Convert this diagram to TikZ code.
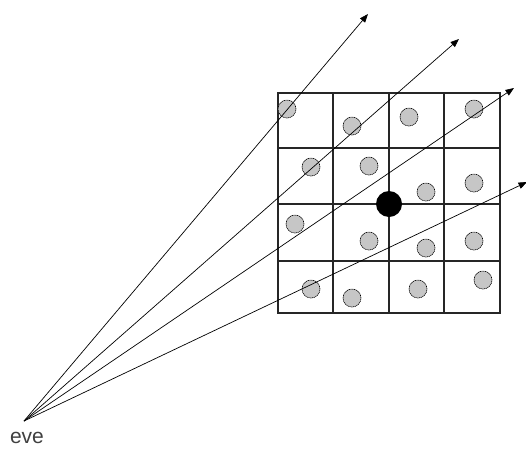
\documentclass[tikz,border=0pt]{standalone}
\usepackage{fontspec}
\setmainfont{Liberation Sans}
\usetikzlibrary{arrows.meta}
\begin{document}
\begin{tikzpicture}[x=1pt,y=-1pt,
  ray/.style={line width=0.7pt,-{Triangle[length=8.5pt,width=6.5pt]}},
  sample/.style={circle,draw=black,fill=gray!45,line width=0.6pt,dashed,dash pattern=on 1.2pt off 0.6pt,minimum size=18pt,inner sep=0pt},
  center/.style={circle,fill=black,minimum size=26pt,inner sep=0pt},
  gridline/.style={line width=1.1pt,draw=black!85},
  border/.style={line width=2.2pt,draw=black!85},
  label/.style={font=\fontsize{21}{23}\selectfont,text=black!75}]
\useasboundingbox (0,0) rectangle (526,450);
% grid
\foreach \x in {333,389,444} \draw[gridline] (\x,93) -- (\x,313);
\foreach \y in {148,204,261} \draw[gridline] (278,\y) -- (500,\y);
\draw[border] (278,93) rectangle (500,313);
% samples
\foreach \p [count=\i] in {(287,109),(352,126),(409,117),(474,109),
  (311,167),(369,166),(426,192),(474,183),
  (295,224),(369,241),(426,248),(474,241),
  (311,289),(352,298),(418,289),(483,280)}
  \node[sample] (s\i) at \p {};
\node[center] (c) at (389,204) {};
% eye
\coordinate (eye) at (24,421);
\node[label,anchor=north] (lbl) at (27,429) {eve};
\coordinate (t1) at (368,14);
\coordinate (t2) at (459,39);
\coordinate (t3) at (514,88);
\coordinate (t4) at (527,182);
\foreach \t in {t1,t2,t3,t4} \draw[ray] (eye) -- (\t);
\end{tikzpicture}
\end{document}
